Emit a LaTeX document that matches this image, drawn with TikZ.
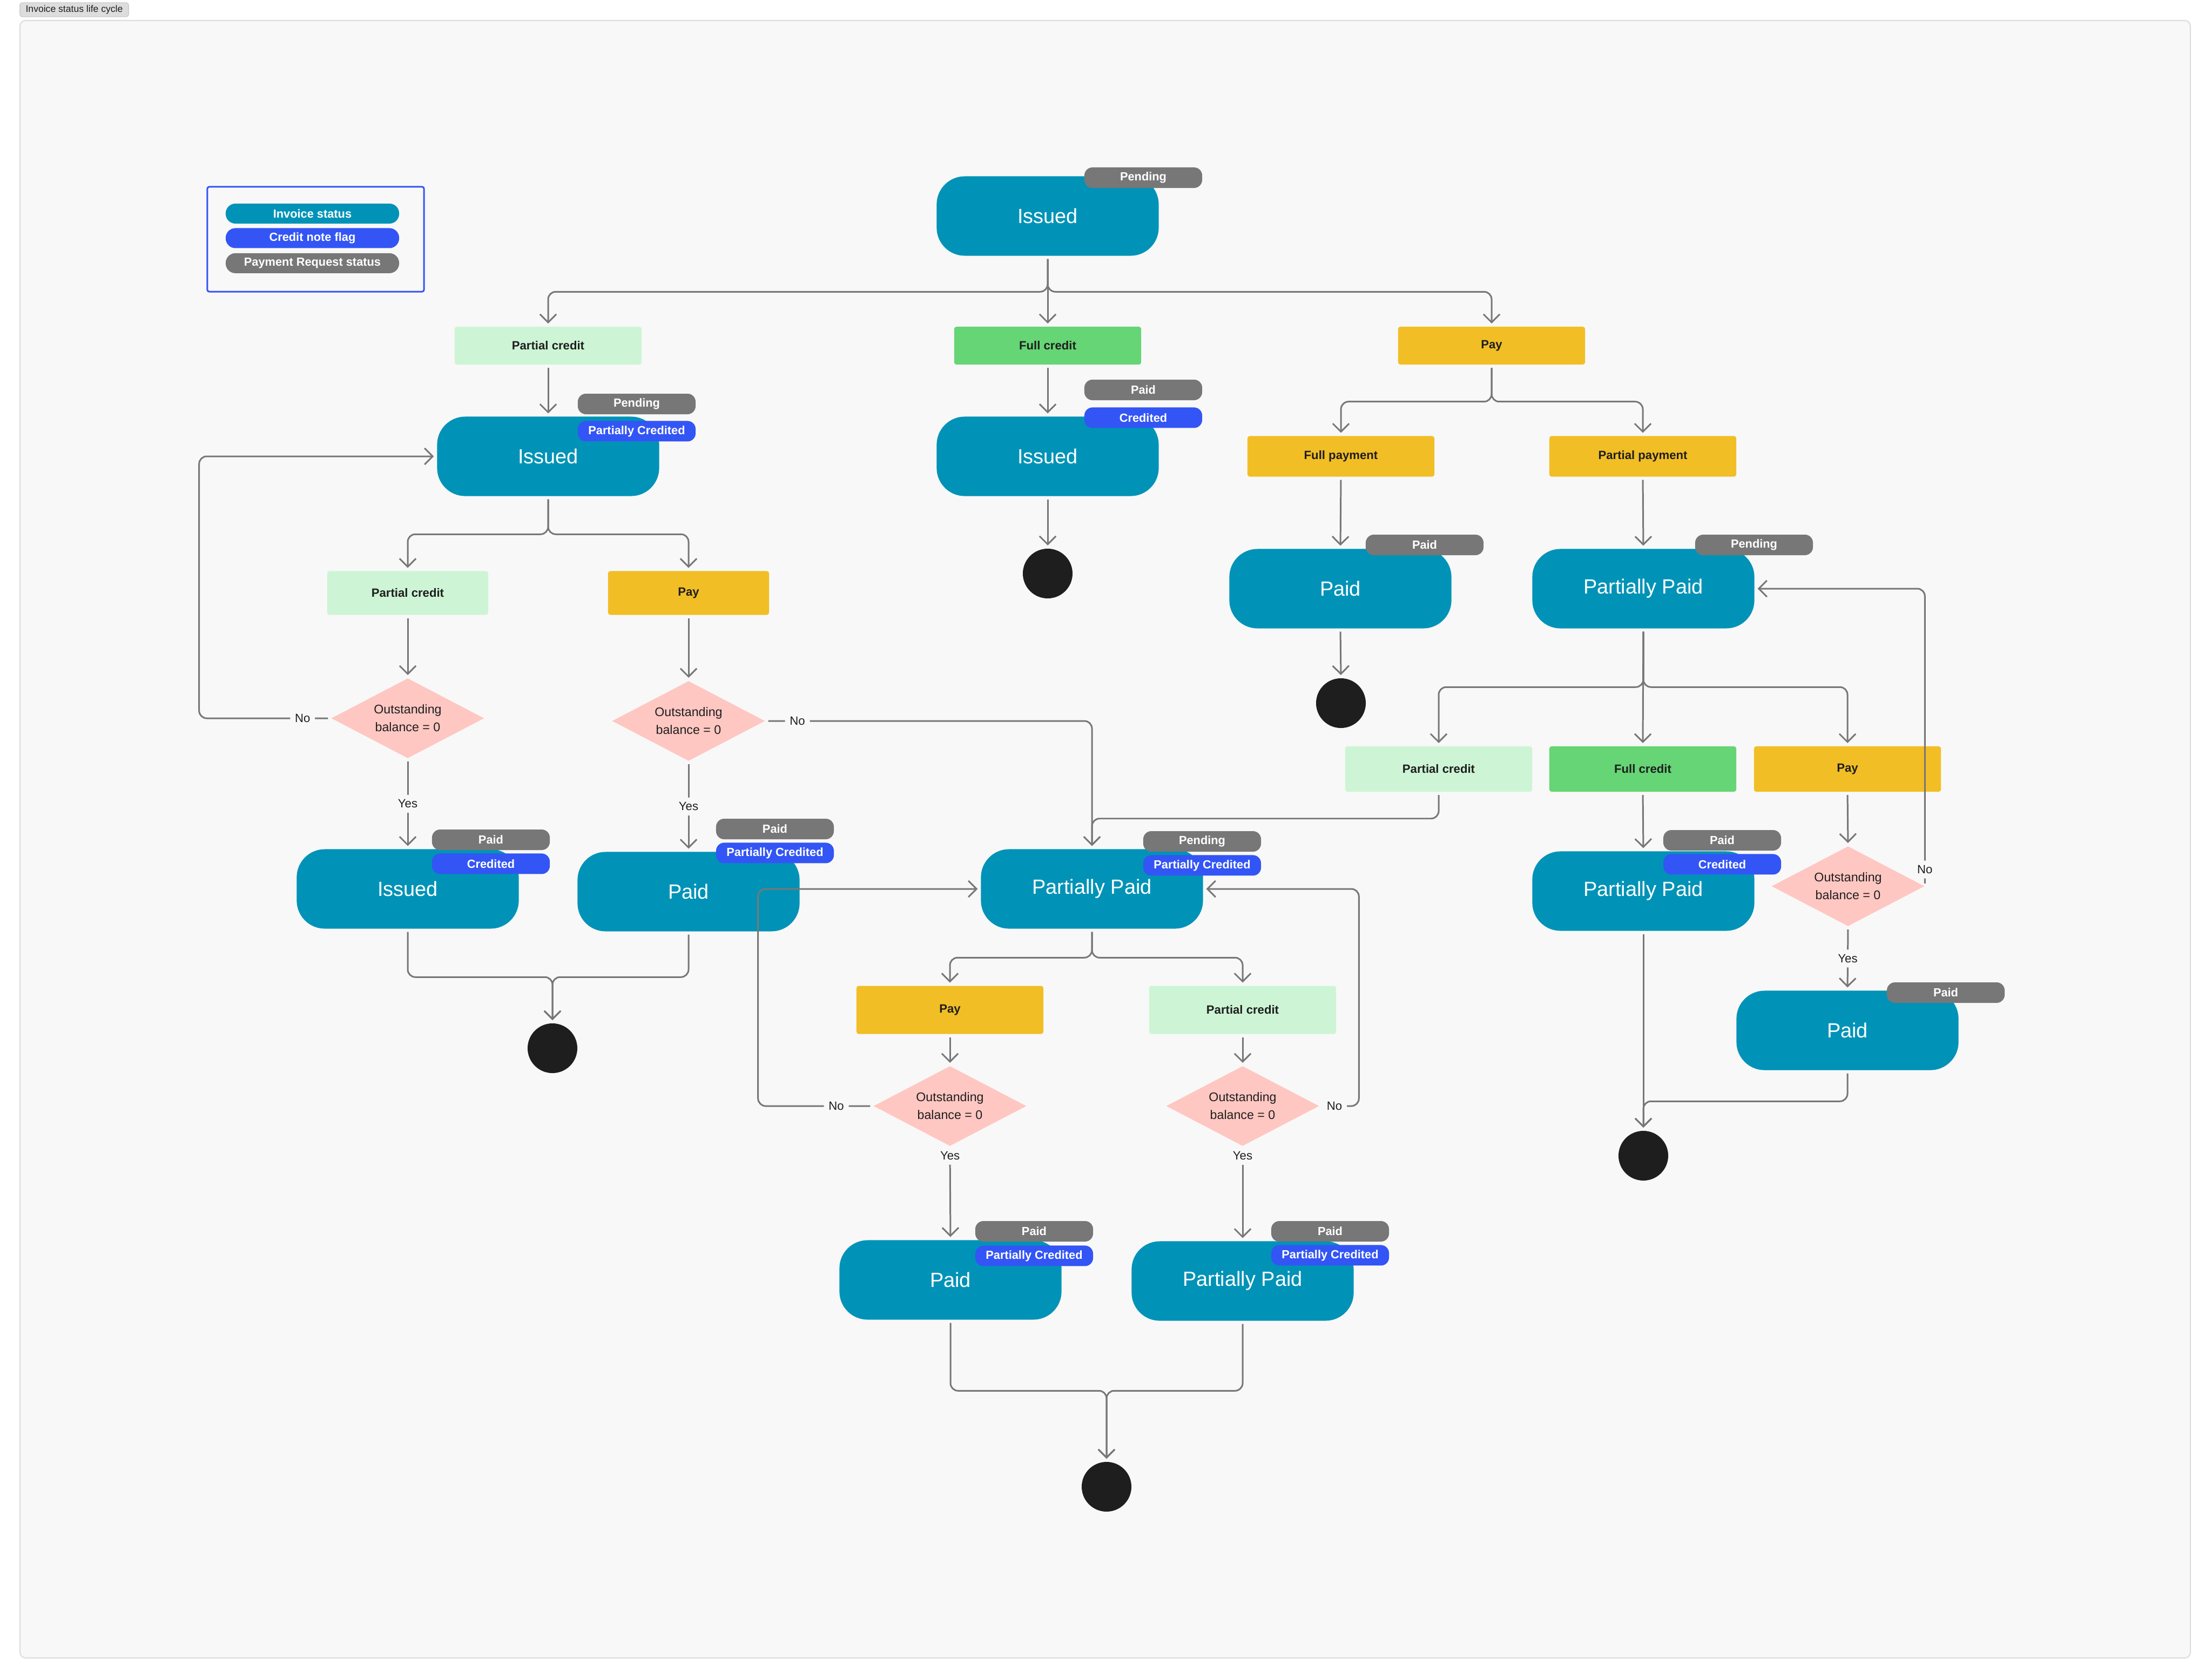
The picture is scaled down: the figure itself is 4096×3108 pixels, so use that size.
\documentclass[tikz,border=0pt]{standalone}
\usepackage{fontspec}
\setmainfont{Liberation Sans}
\usetikzlibrary{positioning,shapes.geometric,arrows.meta}

\definecolor{canvas}{HTML}{F8F8F8}
\definecolor{frameline}{HTML}{DDDDDD}
\definecolor{stateteal}{HTML}{0093B7}
\definecolor{taggrey}{HTML}{777777}
\definecolor{creditblue}{HTML}{3355F5}
\definecolor{creditlight}{HTML}{CDF5D5}
\definecolor{creditfull}{HTML}{66D575}
\definecolor{payyellow}{HTML}{F2BE25}
\definecolor{decpink}{HTML}{FFC7C2}
\definecolor{wire}{HTML}{777777}
\definecolor{ink}{HTML}{1E1E1E}

\begin{document}
\begin{tikzpicture}[x=0.01cm, y=-0.01cm,
    state-box/.style={fill=stateteal, text=white, rounded corners=0.52cm,
      minimum width=4.11cm, minimum height=1.47cm, font=\fontsize{10.8}{13}\selectfont},
    act-box/.style={fill=#1, text=ink, rounded corners=1.2pt, minimum width=3.46cm,
      minimum height=0.7cm, font=\bfseries\fontsize{6.3}{7.5}\selectfont},
    tag-pill/.style={fill=#1, text=white, rounded corners=0.15cm, minimum width=2.18cm,
      minimum height=0.38cm, inner sep=0pt, font=\bfseries\fontsize{6.2}{7}\selectfont},
    legend-pill/.style={fill=#1, text=white, rounded corners=0.18cm, minimum width=3.21cm,
      minimum height=0.37cm, inner sep=0pt, font=\bfseries\fontsize{6.2}{7}\selectfont},
    dec-node/.style={diamond, fill=decpink, text=ink, aspect=1.9, inner sep=0pt,
      minimum width=2.83cm, minimum height=1.48cm, align=center,
      font=\fontsize{6.6}{9.3}\selectfont},
    end-dot/.style={circle, fill=ink, minimum size=0.92cm, inner sep=0pt},
    flow-arr/.style={draw=wire, line width=0.85pt, rounded corners=4pt,
      -{Straight Barb[length=4.3pt,width=8.6pt]}, shorten >=1.5pt, shorten <=1.5pt},
    edge-lbl/.style={fill=canvas, text=ink, inner sep=2.5pt, font=\fontsize{6.3}{7}\selectfont}
  ]

% Page and frame
\fill[white, use as bounding box] (0,0) rectangle (4096,3108);
\filldraw[fill=canvas, draw=frameline, line width=0.6pt, rounded corners=3pt] (37,38) rectangle (4056,3070);
\node[fill=frameline, draw=black!20, rounded corners=1.2pt, minimum width=2.01cm, minimum height=0.26cm,
  inner sep=0pt, text=ink, font=\fontsize{5}{6}\selectfont] (title) at (137.5,18) {Invoice status life cycle};

% Legend
\node[draw=creditblue, line width=0.85pt, rounded corners=1pt, minimum width=4.01cm, minimum height=1.94cm] (legend) at (584.5,443) {};
\node[legend-pill=stateteal] (leg-inv) at (578.5,395.5) {Invoice status};
\node[legend-pill=creditblue, below=0.07cm of leg-inv] (leg-cred) {Credit note flag};
\node[legend-pill=taggrey, below=0.08cm of leg-cred] (leg-pay) {Payment Request status};

% Invoice states
\node[state-box] (iss0) at (1940,400) {Issued};
\node[state-box] (iss1) at (1015,845) {Issued};
\node[state-box] (iss2) at (1940,845) {Issued};
\node[state-box] (paid1) at (2482,1090) {Paid};
\node[state-box] (ppaid1) at (3043,1090) {Partially Paid};
\node[state-box] (iss3) at (755,1646) {Issued};
\node[state-box] (paid2) at (1275,1651) {Paid};
\node[state-box] (ppaid2) at (2022,1646) {Partially Paid};
\node[state-box] (ppaid3) at (3043,1650) {Partially Paid};
\node[state-box] (paid4) at (3421,1908) {Paid};
\node[state-box] (paid5) at (1760,2370) {Paid};
\node[state-box] (ppaid4) at (2301,2372) {Partially Paid};

% Payment request and credit note tags
\node[tag-pill=taggrey] (t-iss0) at (2117,329) {Pending};
\node[tag-pill=taggrey] (t-iss1) at (1179,748) {Pending};
\node[tag-pill=creditblue, below=0.11cm of t-iss1] (c-iss1) {Partially Credited};
\node[tag-pill=taggrey] (t-iss2) at (2117,722) {Paid};
\node[tag-pill=creditblue, below=0.12cm of t-iss2] (c-iss2) {Credited};
\node[tag-pill=taggrey] (t-paid1) at (2638,1009) {Paid};
\node[tag-pill=taggrey] (t-ppaid1) at (3248,1009) {Pending};
\node[tag-pill=taggrey] (t-iss3) at (909,1555) {Paid};
\node[tag-pill=creditblue, below=0.05cm of t-iss3] (c-iss3) {Credited};
\node[tag-pill=taggrey] (t-paid2) at (1435,1535) {Paid};
\node[tag-pill=creditblue, below=0.05cm of t-paid2] (c-paid2) {Partially Credited};
\node[tag-pill=taggrey] (t-ppaid2) at (2226,1558) {Pending};
\node[tag-pill=creditblue, below=0.05cm of t-ppaid2] (c-ppaid2) {Partially Credited};
\node[tag-pill=taggrey] (t-ppaid3) at (3189,1556) {Paid};
\node[tag-pill=creditblue, below=0.05cm of t-ppaid3] (c-ppaid3) {Credited};
\node[tag-pill=taggrey] (t-paid4) at (3603,1838) {Paid};
\node[tag-pill=taggrey] (t-paid5) at (1915,2280) {Paid};
\node[tag-pill=creditblue, below=0.06cm of t-paid5] (c-paid5) {Partially Credited};
\node[tag-pill=taggrey] (t-ppaid4) at (2463,2280) {Paid};
\node[tag-pill=creditblue, below=0.05cm of t-ppaid4] (c-ppaid4) {Partially Credited};

% Actions
\node[act-box=creditlight] (pc1) at (1015,640) {Partial credit};
\node[act-box=creditfull] (fc1) at (1940,640) {Full credit};
\node[act-box=payyellow] (pay1) at (2762,640) {Pay};
\node[act-box=payyellow, minimum height=0.75cm] (fpay) at (2483,845) {Full payment};
\node[act-box=payyellow, minimum height=0.75cm] (ppay) at (3042,845) {Partial payment};
\node[act-box=creditlight, minimum width=2.98cm, minimum height=0.81cm] (pc2) at (755,1098) {Partial credit};
\node[act-box=payyellow, minimum width=2.98cm, minimum height=0.81cm] (pay2) at (1275,1098) {Pay};
\node[act-box=creditlight, minimum height=0.84cm] (pc3) at (2664,1424) {Partial credit};
\node[act-box=creditfull, minimum height=0.84cm] (fc2) at (3042,1424) {Full credit};
\node[act-box=payyellow, minimum height=0.84cm] (pay3) at (3421,1424) {Pay};
\node[act-box=payyellow, minimum height=0.89cm] (pay4) at (1759,1870) {Pay};
\node[act-box=creditlight, minimum height=0.89cm] (pc4) at (2301,1870) {Partial credit};

% Balance checks
\node[dec-node] (d1) at (755,1330) {Outstanding\\balance = 0};
\node[dec-node] (d2) at (1275,1335) {Outstanding\\balance = 0};
\node[dec-node] (d3) at (3422,1641) {Outstanding\\balance = 0};
\node[dec-node] (d4) at (1759,2048) {Outstanding\\balance = 0};
\node[dec-node] (d5) at (2301,2048) {Outstanding\\balance = 0};

% End points
\node[end-dot] (end1) at (1940,1062) {};
\node[end-dot] (end2) at (2483,1302) {};
\node[end-dot] (end3) at (1023,1941) {};
\node[end-dot] (end4) at (3043,2140) {};
\node[end-dot] (end5) at (2049,2753) {};

% First split
\draw[flow-arr] (iss0.south) -- ++(0,66) -| (pc1.north);
\draw[flow-arr] (iss0.south) -- ++(0,66) -| (pay1.north);
\draw[flow-arr] (iss0.south) -- (fc1.north);

% Full credit branch
\draw[flow-arr] (fc1.south) -- (iss2.north);
\draw[flow-arr] (iss2.south) -- (end1.north);

% Partial credit branch
\draw[flow-arr] (pc1.south) -- (iss1.north);
\draw[flow-arr] (iss1.south) -- ++(0,70) -| (pc2.north);
\draw[flow-arr] (iss1.south) -- ++(0,70) -| (pay2.north);
\draw[flow-arr] (pc2.south) -- (d1.north);
\draw[flow-arr] (pay2.south) -- (d2.north);
\draw[flow-arr] (d1.south) -- node[edge-lbl] {Yes} (iss3.north);
\draw[flow-arr] (d2.south) -- node[edge-lbl] {Yes} (paid2.north);
\draw[flow-arr] (d1.west) -- node[edge-lbl, pos=0.215] {No} ++(-244,0) |- (iss1.west);
\draw[flow-arr] (d2.east) -| node[edge-lbl, pos=0.049] {No} (ppaid2.north);
\draw[flow-arr] (iss3.south) -- ++(0,89) -| (end3.north);
\draw[flow-arr] (paid2.south) -- ++(0,84) -| (end3.north);

% Pay branch
\draw[flow-arr] (pay1.south) -- ++(0,68) -| (fpay.north);
\draw[flow-arr] (pay1.south) -- ++(0,68) -| (ppay.north);
\draw[flow-arr] (fpay.south) -- (paid1.north);
\draw[flow-arr] (paid1.south) -- (end2.north);
\draw[flow-arr] (ppay.south) -- (ppaid1.north);
\draw[flow-arr] (ppaid1.south) -- ++(0,108) -| (pc3.north);
\draw[flow-arr] (ppaid1.south) -- ++(0,108) -| (pay3.north);
\draw[flow-arr] (ppaid1.south) -- (fc2.north);
\draw[flow-arr] (fc2.south) -- (ppaid3.north);
\draw[flow-arr] (ppaid3.south) -- (end4.north);
\draw[flow-arr] (pay3.south) -- (d3.north);
\draw[flow-arr] (d3.south) -- node[edge-lbl] {Yes} (paid4.north);
\draw[flow-arr] (d3.east) |- node[edge-lbl, pos=0.028] {No} (ppaid1.east);
\draw[flow-arr] (paid4.south) -- ++(0,57) -| (end4.north);
\draw[flow-arr] (pc3.south) -- ++(0,49) -| (ppaid2.north);

% Middle partially paid
\draw[flow-arr] (ppaid2.south) -- ++(0,53) -| (pay4.north);
\draw[flow-arr] (ppaid2.south) -- ++(0,53) -| (pc4.north);
\draw[flow-arr] (pay4.south) -- (d4.north);
\draw[flow-arr] (pc4.south) -- (d5.north);
\draw[flow-arr] (d4.south) -- node[edge-lbl, pos=0.1] {Yes} (paid5.north);
\draw[flow-arr] (d5.south) -- node[edge-lbl, pos=0.1] {Yes} (ppaid4.north);
\draw[flow-arr] (d4.west) -- node[edge-lbl, pos=0.32] {No} ++(-213,0) |- (ppaid2.west);
\draw[flow-arr] (d5.east) -- node[edge-lbl, pos=0.38] {No} ++(73,0) |- (ppaid2.east);
\draw[flow-arr] (paid5.south) -- ++(0,131) -| (end5.north);
\draw[flow-arr] (ppaid4.south) -- ++(0,129) -| (end5.north);

\end{tikzpicture}
\end{document}
